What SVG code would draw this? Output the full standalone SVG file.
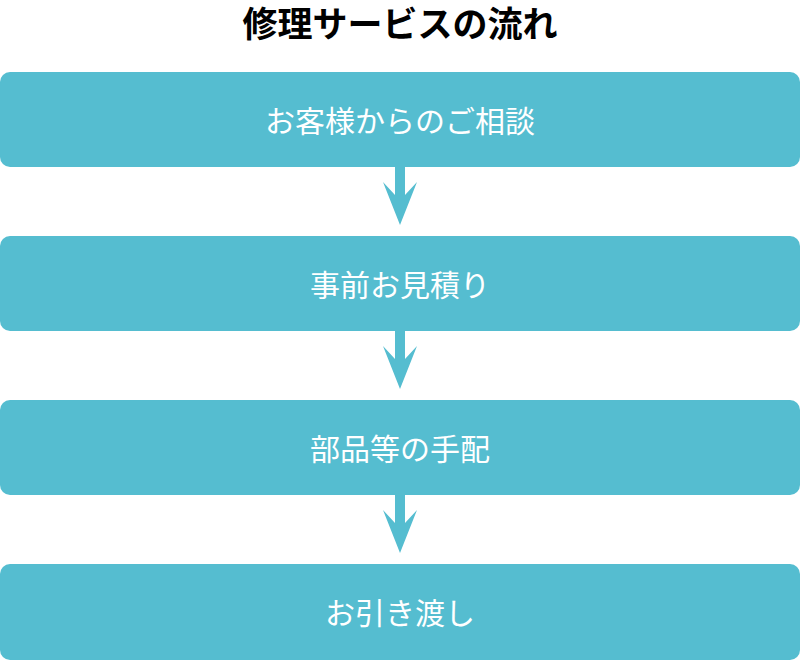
<svg xmlns="http://www.w3.org/2000/svg" width="800" height="660" viewBox="0 0 800 660">
<style>
.box{fill:#55BDD0}
.t{font-family:"Noto Sans CJK JP","Noto Sans",sans-serif;font-size:30px;fill:#fff;text-anchor:middle;dominant-baseline:central}
.arr{fill:#55BDD0}
</style>
<defs><path id="a" d="M395,0 V28 L383,15 L400,58 L417,15 L405,28 V0 Z"/></defs>
<rect width="800" height="660" fill="#fff"/>
<text x="400" y="21" font-family="'Noto Sans CJK JP',sans-serif" font-size="35" font-weight="bold" text-anchor="middle" dominant-baseline="central">修理サービスの流れ</text>
<g id="connectors">
<use href="#a" class="arr" y="167"/>
<use href="#a" class="arr" y="331"/>
<use href="#a" class="arr" y="495"/>
</g>
<g id="n1"><rect class="box" x="0" y="72" width="800" height="95" rx="10"/><text class="t" x="400" y="119">お客様からのご相談</text></g>
<g id="n2"><rect class="box" x="0" y="236" width="800" height="95" rx="10"/><text class="t" x="400" y="283">事前お見積り</text></g>
<g id="n3"><rect class="box" x="0" y="400" width="800" height="95" rx="10"/><text class="t" x="400" y="447">部品等の手配</text></g>
<g id="n4"><rect class="box" x="0" y="564" width="800" height="96" rx="10"/><text class="t" x="400" y="611">お引き渡し</text></g>
</svg>
